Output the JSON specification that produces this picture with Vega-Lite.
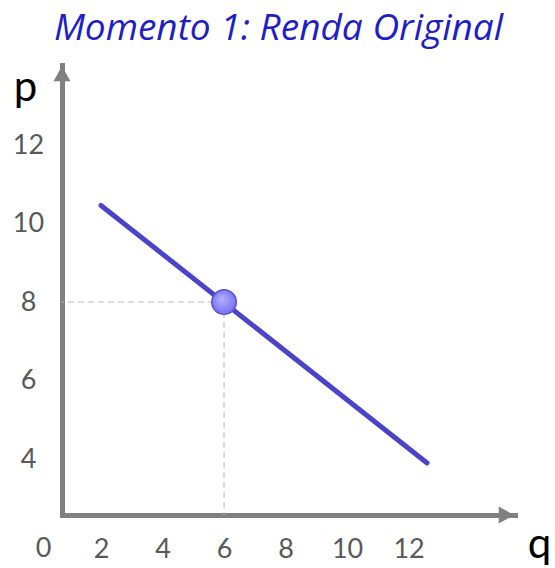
{
  "$schema": "https://vega.github.io/schema/vega-lite/v6.json",
  "autosize": "none",
  "width": 453,
  "height": 450,
  "padding": {"left": 62, "top": 65, "right": 40, "bottom": 53},
  "background": "white",
  "config": {"view": {"stroke": null}},
  "title": {
    "text": "Momento 1: Renda Original",
    "font": "Open Sans",
    "fontStyle": "italic",
    "fontSize": 37,
    "fontWeight": "normal",
    "color": "#1f1fc4",
    "baseline": "alphabetic",
    "frame": "group",
    "offset": 21,
    "anchor": "middle",
    "dx": -10,
    "dy": 33
  },
  "datasets": {
    "demand": [{"q": 2, "p": 10.46}, {"q": 12.6, "p": 3.9}],
    "equilibrium": [{"q": 6, "p": 8}],
    "origin": [{"q": 0, "p": 2.573, "label": "0"}],
    "arrows": [
      {"q": 0.732, "p": 13.82, "dir": "up"},
      {"q": 15.18, "p": 2.573, "dir": "right"}
    ]
  },
  "layer": [
    {
      "data": {"name": "equilibrium"},
      "mark": {"type": "rule", "color": "#b8b8b8", "strokeWidth": 1, "strokeDash": [6, 4]},
      "encoding": {
        "x": {
          "field": "q", "type": "quantitative",
          "scale": {"domain": [0.732, 15.46], "nice": false, "zero": false},
          "axis": {
            "title": "q",
            "titleFont": "Lato", "titleFontSize": 42, "titleFontWeight": "normal", "titleColor": "#000000",
            "titleAngle": 0, "titleX": 477, "titleY": 42, "titleBaseline": "alphabetic", "titleAlign": "center",
            "values": [2, 4, 6, 8, 10, 12],
            "grid": false, "ticks": false, "tickSize": 0,
            "domainColor": "#808080", "domainWidth": 5, "domainCap": "square",
            "labelFont": "Lato", "labelFontSize": 27, "labelColor": "#595959",
            "labelPadding": 21, "labelOverlap": false, "labelFlush": false, "labelBound": false,
            "encode": {"labels": {"update": {"dx": {"signal": "datum.value === 12 ? 11 : 0"}}}}
          }
        },
        "x2": {"datum": 0.732},
        "y": {
          "field": "p", "type": "quantitative",
          "scale": {"domain": [2.573, 14.04], "nice": false, "zero": false},
          "axis": {
            "title": "p",
            "titleFont": "Lato", "titleFontSize": 42, "titleFontWeight": "normal", "titleColor": "#000000",
            "titleAngle": 0, "titleX": -37, "titleY": 35, "titleBaseline": "alphabetic", "titleAlign": "center",
            "values": [4, 6, 8, 10, 12],
            "grid": false, "ticks": false, "tickSize": 0,
            "domainColor": "#808080", "domainWidth": 5, "domainCap": "square",
            "labelFont": "Lato", "labelFontSize": 27, "labelColor": "#595959",
            "labelPadding": 34, "labelAlign": "center", "labelBaseline": "middle",
            "labelOverlap": false, "labelFlush": false, "labelBound": false
          }
        }
      }
    },
    {
      "data": {"name": "equilibrium"},
      "mark": {"type": "rule", "color": "#b8b8b8", "strokeWidth": 1, "strokeDash": [6, 4]},
      "encoding": {
        "x": {"field": "q", "type": "quantitative"},
        "y": {"field": "p", "type": "quantitative"},
        "y2": {"datum": 2.573}
      }
    },
    {
      "data": {"name": "demand"},
      "mark": {"type": "line", "color": "#4b44c8", "strokeWidth": 5, "strokeCap": "round"},
      "encoding": {
        "x": {"field": "q", "type": "quantitative"},
        "y": {"field": "p", "type": "quantitative"}
      }
    },
    {
      "data": {"name": "equilibrium"},
      "mark": {
        "type": "point", "filled": true, "size": 600, "opacity": 1,
        "stroke": "#5a52d6", "strokeWidth": 1.5,
        "fill": {
          "gradient": "radial",
          "x1": 0.4, "y1": 0.35, "r1": 0, "x2": 0.5, "y2": 0.5, "r2": 0.6,
          "stops": [{"offset": 0, "color": "#b4b2ff"}, {"offset": 1, "color": "#6f68ee"}]
        }
      },
      "encoding": {
        "x": {"field": "q", "type": "quantitative"},
        "y": {"field": "p", "type": "quantitative"}
      }
    },
    {
      "data": {"name": "origin"},
      "mark": {"type": "text", "font": "Lato", "fontSize": 27, "color": "#595959", "baseline": "top", "align": "center", "dx": 4, "dy": 21},
      "encoding": {
        "x": {"field": "q", "type": "quantitative"},
        "y": {"field": "p", "type": "quantitative"},
        "text": {"field": "label"}
      }
    },
    {
      "data": {"name": "arrows"},
      "mark": {"type": "point", "filled": true, "opacity": 1, "color": "#808080", "size": 289},
      "encoding": {
        "x": {"field": "q", "type": "quantitative"},
        "y": {"field": "p", "type": "quantitative"},
        "shape": {
          "field": "dir", "type": "nominal",
          "scale": {"domain": ["up", "right"], "range": ["M-1,0.9L0,-0.9L1,0.9Z", "M-0.9,-1L0.9,0L-0.9,1Z"]},
          "legend": null
        }
      }
    }
  ]
}
